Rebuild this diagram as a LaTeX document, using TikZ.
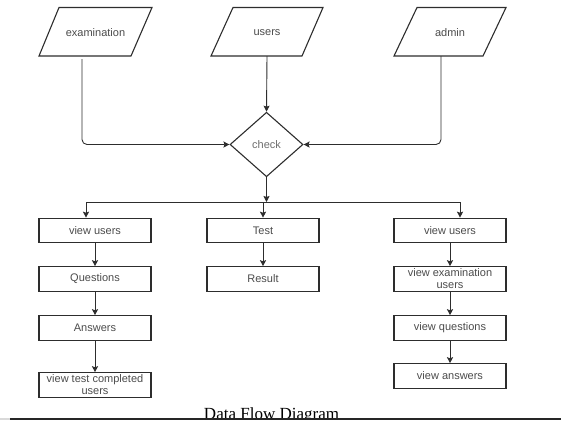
\documentclass[tikz,border=0pt]{standalone}
\usepackage{fontspec}
\setmainfont{Liberation Sans}
\newfontfamily\capfont{Liberation Serif}
\usetikzlibrary{shapes.geometric,arrows.meta}
\definecolor{edge}{RGB}{45,45,45}
\definecolor{txtc}{RGB}{75,75,75}
\definecolor{chkc}{RGB}{110,110,110}
\tikzset{
  boxnode/.style={draw=edge, line width=1.1pt, rectangle, minimum width=112pt, minimum height=24.5pt, inner sep=0pt, align=center, text=txtc, font=\fontsize{11}{12}\selectfont},
  txtnode/.style={inner sep=0pt, text=txtc, font=\fontsize{11}{12}\selectfont},
  pgram/.style={draw=edge, line width=1.1pt},
  conn/.style={draw=edge, line width=0.9pt},
  arr/.style={conn, -{Stealth[length=6pt,width=6pt,inset=1pt]}}
}
\begin{document}
\begin{tikzpicture}[x=1pt,y=-1pt]
\useasboundingbox (0,0) rectangle (561,421);
% input parallelograms
\draw[pgram] (39,56) -- (59,7.5) -- (152,7.5) -- (131,56) -- cycle;
\node[txtnode] (exam) at (95.5,32.5) {examination};
\draw[pgram] (211,56) -- (233,7.5) -- (323,7.5) -- (302,56) -- cycle;
\node[txtnode] (users) at (267,32.5) {users};
\draw[pgram] (394,56) -- (417,7.5) -- (506,7.5) -- (483,56) -- cycle;
\node[txtnode] (admin) at (450,32.5) {admin};
\coordinate (examout) at (82,59);
\coordinate (usersout) at (267,56);
\coordinate (adminout) at (441,56);
% decision
\node[diamond, draw=edge, line width=1.1pt, minimum width=73pt, minimum height=64.5pt, inner sep=0pt, text=chkc, font=\fontsize{11}{12}\selectfont] (check) at (266.5,144.5) {check};
\draw[arr, rounded corners=5pt] (examout) |- (check.west);
\draw[arr, rounded corners=5pt] (adminout) |- (check.east);
\draw[arr] (usersout) -- (check.north);
% branches
\coordinate (jC) at (266.5,202);
\coordinate (jL) at (86,202);
\coordinate (jM) at (263,202);
\coordinate (jR) at (460,202);
\draw[arr] (check.south) -- (jC);
\draw[conn] (jL) -- (jR);
% left column
\node[boxnode] (vuL) at (95,230.5) {view users};
\node[boxnode] (ques) at (95,279) {Questions};
\node[boxnode] (ans) at (95,328) {Answers};
\node[boxnode] (vtcu) at (95,385) {view test completed\\users};
% middle column
\node[boxnode] (test) at (263,230.5) {Test};
\node[boxnode] (res) at (263,279) {Result};
% right column
\node[boxnode] (vuR) at (450,230.5) {view users};
\node[boxnode] (veu) at (450,279) {view examination\\users};
\node[boxnode] (vq) at (450,328) {view questions};
\node[boxnode] (va) at (450,376) {view answers};
\draw[arr] (jL) -- (vuL.north -| jL);
\draw[arr] (jM) -- (test.north);
\draw[arr] (jR) -- (vuR.north -| jR);
\draw[arr] (vuL) -- (ques);
\draw[arr] (ques) -- (ans);
\draw[arr] (ans) -- (vtcu);
\draw[arr] (test) -- (res);
\draw[arr] (vuR) -- (veu);
\draw[arr] (veu) -- (vq);
\draw[arr] (vq) -- (va);
% caption and rule
\begin{scope}
\clip (0,0) rectangle (561,417.6);
\node[anchor=base, inner sep=0pt, font=\capfont\fontsize{17}{17}\selectfont] (cap) at (271.5,419.5) {Data Flow Diagram};
\end{scope}
\coordinate (ruleA) at (0,418.7);
\coordinate (ruleB) at (10,418.7);
\coordinate (ruleC) at (561,418.7);
\draw[line width=2pt, black!15] (ruleA) -- (ruleB);
\draw[line width=2pt, black!85] (ruleB) -- (ruleC);
\end{tikzpicture}
\end{document}
